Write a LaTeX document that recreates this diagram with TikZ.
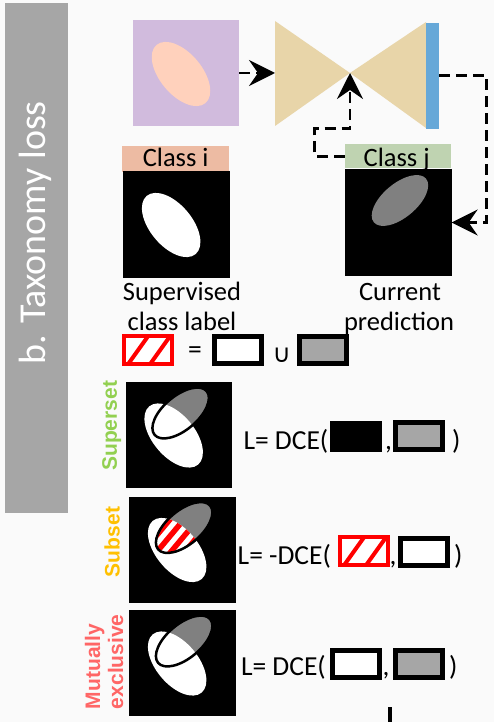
\documentclass[tikz,border=0pt]{standalone}
\usepackage{fontspec}
\setmainfont{Carlito}
\newfontfamily\tagfont{Liberation Sans}
\newfontfamily\symfont{DejaVu Sans}
\usetikzlibrary{arrows.meta}

\definecolor{pagebg}{HTML}{FAFAFA}
\definecolor{sidebar}{HTML}{A6A6A6}
\definecolor{inputbg}{HTML}{D1BBDD}
\definecolor{inputblob}{HTML}{FFD1BC}
\definecolor{netbody}{HTML}{E8D5A9}
\definecolor{nethead}{HTML}{66A8D8}
\definecolor{tagi}{HTML}{EDBBA3}
\definecolor{tagj}{HTML}{BFD3B1}
\definecolor{predgray}{HTML}{808080}
\definecolor{boxgray}{HTML}{A6A6A6}
\definecolor{supercol}{HTML}{92D050}
\definecolor{subcol}{HTML}{FFC000}
\definecolor{mutcol}{HTML}{FF6666}

\newcommand\headsize{\fontsize{38}{40}\selectfont}
\newcommand\labelsize{\fontsize{26.5}{30}\selectfont}
\newcommand\losssize{\fontsize{27.5}{30}\selectfont}
\newcommand\relsize{\fontsize{21}{24}\selectfont}

% ground-truth blob (white) and predicted blob (gray) inside a 106x106 mask,
% coordinates relative to the mask's north-west corner
\newcommand\gtblob{(48,53.5) ellipse [x radius=38, y radius=21]}
\newcommand\predblob{(55,31) ellipse [x radius=34, y radius=17]}

% mask with both blobs; the overlap is white, #2 may paint over it
\newcommand\overlapmask[2]{%
  \begin{scope}[shift={(#1.north west)}]
    \fill[white, gtrot] \gtblob;
    \fill[predgray, predrot] \predblob;
    \begin{scope}
      \clip[gtrot] \gtblob;
      \fill[white, predrot] \predblob;
      #2
    \end{scope}
    \draw[line width=2.5pt, predrot] \predblob;
  \end{scope}}

\newcommand\overlapstripes{%
  \clip[predrot] \predblob;
  \foreach \k in {0,...,12}
    \draw[red, line width=5.5pt] (\k*14-60,110) -- ++(92,-110);}

% red hatched box centred at (#2,#3)
\newcommand\hatchbox[3]{%
  \node[hatchbox] (#1) at (#2,#3) {};
  \draw[red, line width=4pt]
    ([shift={(4,28)}]#1.north west) -- ([shift={(24,0)}]#1.north west)
    ([shift={(26,28)}]#1.north west) -- ([shift={(46,0)}]#1.north west);}

\begin{document}
\begin{tikzpicture}[x=1pt, y=-1pt,
  every node/.style={inner sep=0pt, outer sep=0pt},
  maskbox/.style={fill=black, minimum width=106.7pt, minimum height=106pt},
  tagbox/.style={minimum width=106.7pt, minimum height=25.7pt},
  flow/.style={line width=2.8pt, dash pattern=on 11pt off 6pt,
    -{Stealth[length=26pt, width=26pt, inset=9pt]}},
  gtrot/.style={rotate around={-50:(48,53.5)}},
  predrot/.style={rotate around={40:(55,31)}},
  outbox/.style={draw=black, line width=5pt, minimum width=47pt, minimum height=27pt},
  hatchbox/.style={draw=red, fill=white, line width=4pt, minimum width=48pt, minimum height=28pt},
  caption/.style={font=\labelsize, anchor=base},
  loss/.style={font=\losssize, anchor=base west},
  relation/.style={font=\tagfont\bfseries\relsize, rotate=90},
]
\fill[pagebg] (0,0) rectangle (494,722);
\useasboundingbox (0,0) rectangle (494,722);

% side banner
\node[fill=sidebar, minimum width=63pt, minimum height=510pt, anchor=north west] (side) at (5,3) {};
\node[font=\headsize, text=white, rotate=90] (title) at (35,233) {b. Taxonomy loss};

% input image and network
\node[fill=inputbg, minimum width=106pt, minimum height=106pt] (img) at (186,73) {};
\fill[inputblob, rotate around={-50:(181,74)}] (181,74) ellipse [x radius=38, y radius=21];

\coordinate (encin) at (275,73);
\coordinate (apex) at (350,73);
\fill[netbody] (275,21) -- (apex) -- (275,126) -- cycle;
\fill[netbody] (apex) -- (426,22) -- (426,128) -- cycle;
\node[fill=nethead, minimum width=13pt, minimum height=106pt] (head) at (432.5,75.7) {};

% class i: supervised label
\node[tagbox, fill=tagi] (labi) at (175.7,158.9) {};
\node[caption] (labitext) at (175.7,166.7) {Class i};
\node[maskbox] (sqi) at (176.5,224.5) {};
\fill[white, shift={(sqi.north west)}, gtrot] \gtblob;

% class j: current prediction
\node[tagbox, fill=tagj, minimum height=24pt] (labj) at (398,156.3) {};
\node[caption] (labjtext) at (396.7,166.7) {Class j};
\node[maskbox] (sqj) at (398.3,222.5) {};
\fill[predgray, shift={(sqj.north west)}, predrot] \predblob;

\node[caption] (capi1) at (182,300) {Supervised};
\node[caption] (capi2) at (182,330) {class label};
\node[caption] (capj1) at (400,300) {Current};
\node[caption] (capj2) at (399,330) {prediction};

% data flow
\draw[flow] (img.east) -- (encin);
\draw[flow] (labj.west) -- ++(-30,0) -- ++(0,-28) -| (apex);
\draw[flow] (head.east) -- ++(47.5,0) |- (sqj.east);

% legend: hatched = white union gray
\hatchbox{lhatch}{148.2}{350}
\node[font=\losssize] (leq) at (195,353) {=};
\node[font=\symfont\fontsize{25}{25}\selectfont] (lcup) at (281.7,355) {∪};
\node[outbox, fill=white] (lwhite) at (237.5,350) {};
\node[outbox, fill=boxgray] (lgray) at (322.5,350) {};

% superset
\node[maskbox] (msup) at (179,435) {};
\overlapmask{msup}{}
\node[relation, text=supercol] (tsup) at (111.7,425.8) {Superset};
\node[loss] (lsup) at (243.5,449.5) {L= DCE(};
\node[fill=black, minimum width=52pt, minimum height=31.3pt] (bsup1) at (356,436.4) {};
\node[loss] (csup) at (385,449.5) {,};
\node[outbox, fill=boxgray] (bsup2) at (419.4,436.4) {};
\node[loss] (psup) at (452,449.5) {)};

% subset
\node[maskbox] (msub) at (182.5,549.5) {};
\overlapmask{msub}{\overlapstripes}
\node[relation, text=subcol] (tsub) at (112,542) {Subset};
\node[loss] (lsub) at (237.7,564) {L= -DCE(};
\hatchbox{bsub1}{364}{551.3}
\node[loss] (csub) at (389.5,564) {,};
\node[outbox, fill=white] (bsub2) at (424,552.3) {};
\node[loss] (psub) at (454,564) {)};

% mutually exclusive
\node[maskbox] (mmut) at (182.5,663) {};
\overlapmask{mmut}{}
\node[relation, text=mutcol, anchor=base west] (tmut1) at (100,709) {Mutually};
\node[relation, text=mutcol, anchor=base west] (tmut2) at (123,709) {exclusive};
\node[loss] (lmut) at (241,675) {L= DCE(};
\node[outbox, fill=white] (bmut1) at (356,664) {};
\node[loss] (cmut) at (382.5,675) {,};
\node[outbox, fill=boxgray] (bmut2) at (419.4,664) {};
\node[loss] (pmut) at (449,675) {)};

% outgoing connector
\coordinate (down0) at (390,707);
\coordinate (down1) at (390,722);
\draw[line width=3.5pt] (down0) -- (down1);
\end{tikzpicture}
\end{document}
